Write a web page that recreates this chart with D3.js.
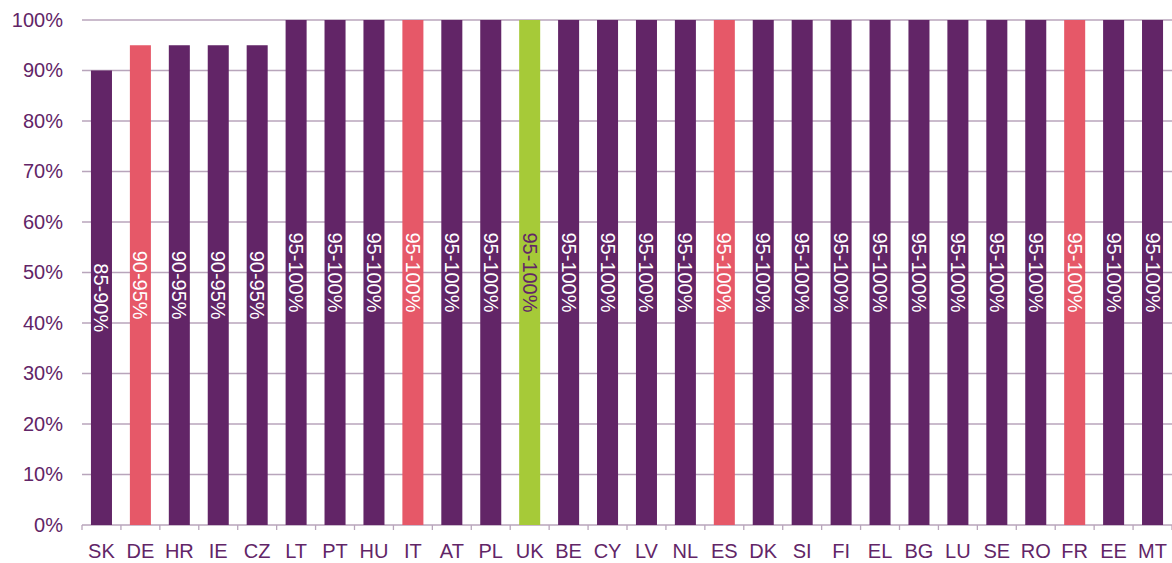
<!DOCTYPE html>
<html>
<head>
<meta charset="utf-8">
<script src="https://cdn.jsdelivr.net/npm/d3@7"></script>
<style>
body { margin: 0; background: #fff; }
text { font-family: "Liberation Sans", Arial, sans-serif; }
</style>
</head>
<body>
<div id="chart"></div>
<script>
var countries = ["SK", "DE", "HR", "IE", "CZ", "LT", "PT", "HU", "IT", "AT", "PL", "UK", "BE", "CY",
    "LV", "NL", "ES", "DK", "SI", "FI", "EL", "BG", "LU", "SE", "RO", "FR", "EE", "MT"];
var values = [90, 95, 95, 95, 95, 100, 100, 100, 100, 100, 100, 100, 100, 100,
    100, 100, 100, 100, 100, 100, 100, 100, 100, 100, 100, 100, 100, 100];
var rangeLabels = ["85-90%", "90-95%", "90-95%", "90-95%", "90-95%", "95-100%", "95-100%", "95-100%",
    "95-100%", "95-100%", "95-100%", "95-100%", "95-100%", "95-100%", "95-100%", "95-100%", "95-100%",
    "95-100%", "95-100%", "95-100%", "95-100%", "95-100%", "95-100%", "95-100%", "95-100%", "95-100%",
    "95-100%", "95-100%"];
var groups = ["p", "r", "p", "p", "p", "p", "p", "p", "r", "p", "p", "g", "p", "p",
    "p", "p", "r", "p", "p", "p", "p", "p", "p", "p", "p", "r", "p", "p"];
var yTicks = [0, 10, 20, 30, 40, 50, 60, 70, 80, 90, 100];

var purple = "#622567";
var fills = { p: purple, r: "#e65868", g: "#a6ca38" };
var gridColor = "#b8a5bb";

var svgWidth = 1172;
var svgHeight = 563;
var margin = { top: 20, right: 0, bottom: 38, left: 82 };
var width = svgWidth - margin.left - margin.right;
var height = svgHeight - margin.top - margin.bottom;

var data = countries.map(function (c, i) {
    return { country: c, value: values[i], label: rangeLabels[i], group: groups[i] };
});

var svg = d3.select("#chart").append("svg")
    .attr("width", svgWidth)
    .attr("height", svgHeight);

var chartGroup = svg.append("g")
    .attr("transform", `translate(${margin.left}, ${margin.top})`);

var xScale = d3.scaleBand()
    .domain(countries)
    .range([0, width])
    .paddingInner(0.46)
    .paddingOuter(0.23);

var yScale = d3.scaleLinear()
    .domain([0, 100])
    .range([height, 0]);

// gridlines
chartGroup.append("g")
    .selectAll("line")
    .data(yTicks)
    .enter()
    .append("line")
    .attr("x1", 0)
    .attr("x2", width)
    .attr("y1", d => yScale(d))
    .attr("y2", d => yScale(d))
    .attr("stroke", gridColor)
    .attr("stroke-width", 1.3);

// y axis labels
var leftAxis = d3.axisLeft(yScale)
    .tickValues(yTicks)
    .tickFormat(d => d + "%")
    .tickSize(0)
    .tickPadding(19);

var yAxis = chartGroup.append("g").call(leftAxis);
yAxis.select(".domain").remove();
yAxis.selectAll("text")
    .attr("fill", purple)
    .style("font-size", "20px");

// bars
chartGroup.append("g")
    .selectAll("rect")
    .data(data)
    .enter()
    .append("rect")
    .attr("x", d => xScale(d.country))
    .attr("y", d => yScale(d.value))
    .attr("width", xScale.bandwidth())
    .attr("height", d => height - yScale(d.value))
    .attr("fill", d => fills[d.group]);

// labels inside bars, rotated
chartGroup.append("g")
    .selectAll("text")
    .data(data)
    .enter()
    .append("text")
    .attr("transform", d => `translate(${xScale(d.country) + xScale.bandwidth() / 2}, ${(yScale(d.value) + height) / 2}) rotate(90)`)
    .attr("text-anchor", "middle")
    .attr("dy", "0.35em")
    .attr("fill", d => d.group === "g" ? purple : "#fff")
    .style("font-size", "20px")
    .text(d => d.label);

// bottom axis: ticks between bands
var step = xScale.step();
var boundaries = d3.range(countries.length + 1).map(i => i * step);
chartGroup.append("g")
    .selectAll("line")
    .data(boundaries)
    .enter()
    .append("line")
    .attr("x1", d => d)
    .attr("x2", d => d)
    .attr("y1", height)
    .attr("y2", height + 5)
    .attr("stroke", gridColor)
    .attr("stroke-width", 1.3);

chartGroup.append("g")
    .selectAll("text")
    .data(countries)
    .enter()
    .append("text")
    .attr("x", d => xScale(d) + xScale.bandwidth() / 2)
    .attr("y", height + 33)
    .attr("text-anchor", "middle")
    .attr("fill", purple)
    .style("font-size", "20px")
    .text(d => d);
</script>
</body>
</html>
